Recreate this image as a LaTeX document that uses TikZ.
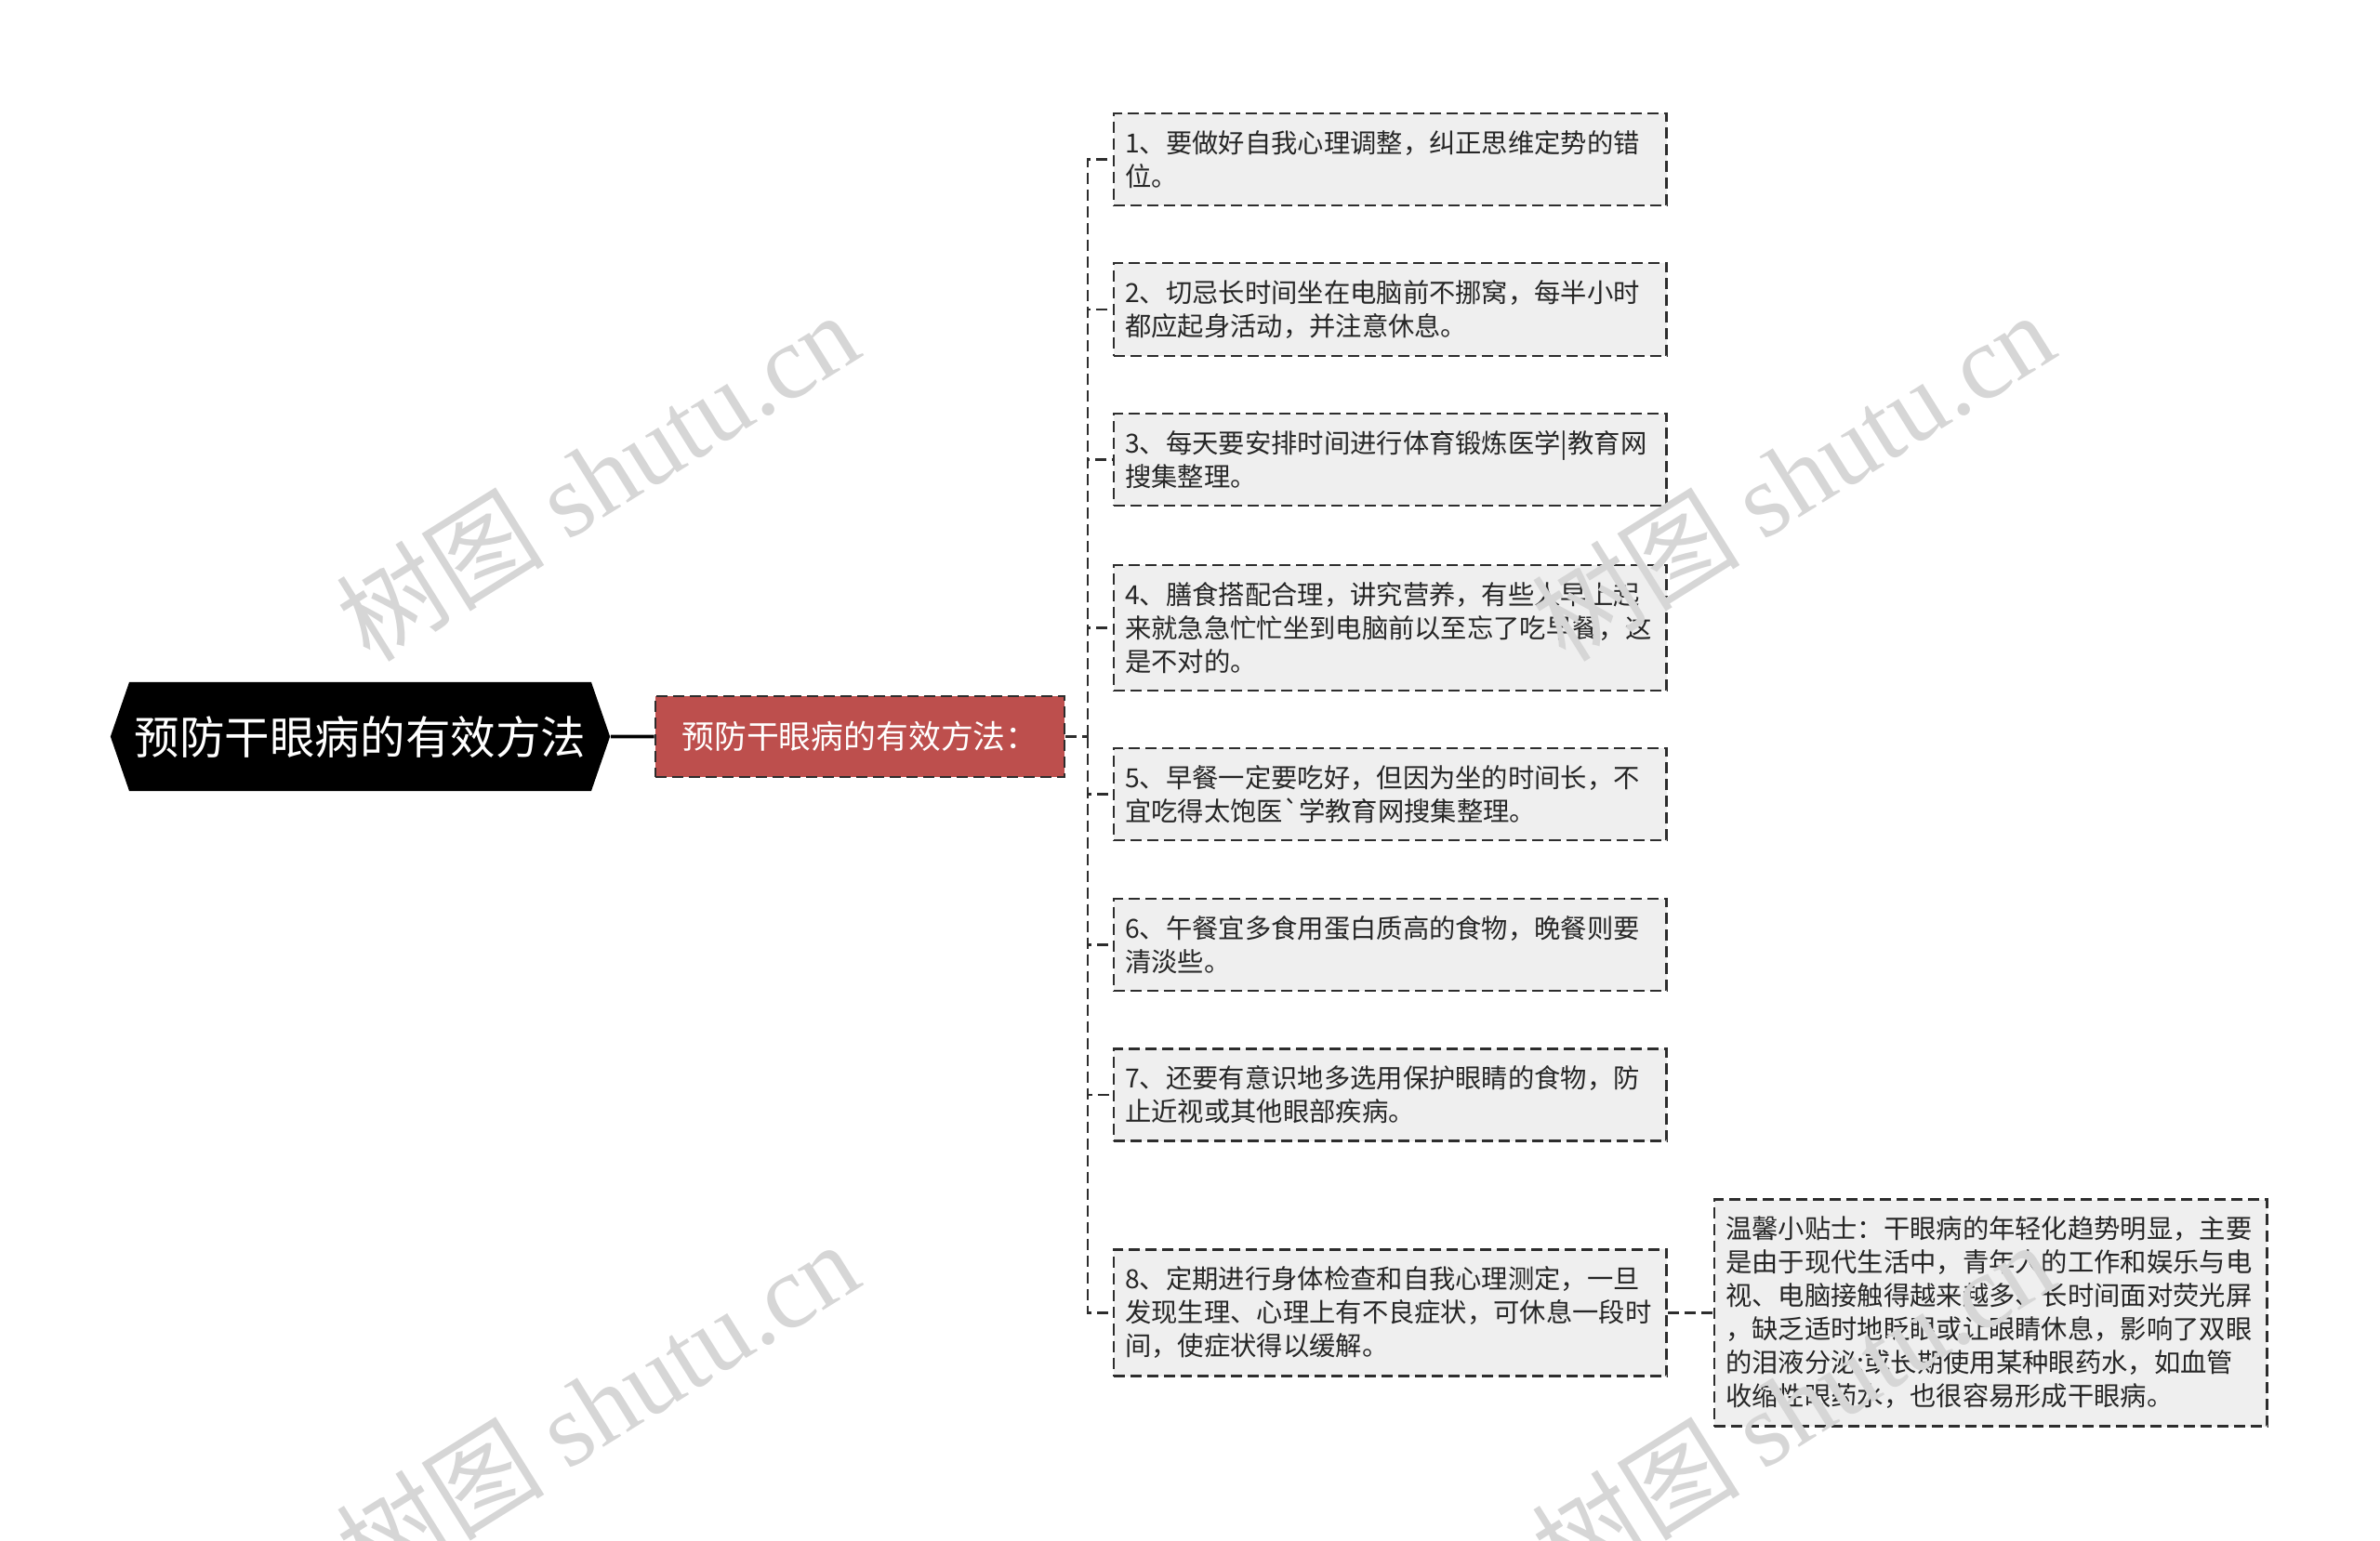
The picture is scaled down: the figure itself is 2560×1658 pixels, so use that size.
\documentclass[tikz,border=0pt]{standalone}
\usepackage{fontspec}
\setmainfont{Noto Sans CJK SC}
\newfontfamily\gravefont[Ligatures=TeXOff]{Noto Sans CJK SC}
\newfontfamily\wmfont{Liberation Serif}
\usetikzlibrary{shapes.symbols}

\definecolor{itemgray}{RGB}{239,239,239}
\definecolor{subred}{RGB}{189,79,77}
\definecolor{edgegray}{RGB}{45,45,45}
\definecolor{wmgray}{RGB}{214,214,214}

\begin{document}
\begin{tikzpicture}[x=0.01cm,y=-0.01cm,
    root/.style={signal, signal to=west and east, signal pointer angle=142, fill=black, text=white, minimum width=5.37cm, minimum height=1.17cm, inner sep=0pt, font=\fontsize{13.8pt}{16pt}\selectfont},
    sub/.style={fill=subred, draw=edgegray, dash pattern=on 0.12cm off 0.06cm, line width=0.7pt, text=white, minimum width=4.4cm, minimum height=0.87cm, inner sep=0pt, font=\fontsize{9.9pt}{12pt}\selectfont},
    item/.style={fill=itemgray, draw=edgegray, dash pattern=on 0.12cm off 0.06cm, line width=0.7pt, anchor=west, text width=5.7cm, align=left, inner xsep=0.12cm, inner ysep=0.185cm, text=black!85, font=\fontsize{8.05pt}{10.24pt}\selectfont},
    link/.style={draw=edgegray, dash pattern=on 0.12cm off 0.06cm, line width=0.7pt},
    wm/.style={text=wmgray, rotate=32, inner sep=0pt, font=\fontsize{32pt}{32pt}\selectfont}]
    \useasboundingbox (0,0) rectangle (2560,1658);

    \node[root] (root) at (387.5,792.5) {预防干眼病的有效方法};
    \node[sub] (sub) at (925,792.5) {预防干眼病的有效方法：};
    \coordinate (hub) at (1170,792.5);

    \node[item] (i1) at (1197,171.5) {1、要做好自我心理调整，纠正思维定势的错\\位。};
    \node[item] (i2) at (1197,333) {2、切忌长时间坐在电脑前不挪窝，每半小时\\都应起身活动，并注意休息。};
    \node[item] (i3) at (1197,494.5) {3、每天要安排时间进行体育锻炼医学|教育网\\搜集整理。};
    \node[item] (i4) at (1197,675.5) {4、膳食搭配合理，讲究营养，有些人早上起\\来就急急忙忙坐到电脑前以至忘了吃早餐，这\\是不对的。};
    \node[item] (i5) at (1197,854.5) {5、早餐一定要吃好，但因为坐的时间长，不\\宜吃得太饱医{\gravefont `}学教育网搜集整理。};
    \node[item] (i6) at (1197,1016.5) {6、午餐宜多食用蛋白质高的食物，晚餐则要\\清淡些。};
    \node[item] (i7) at (1197,1178) {7、还要有意识地多选用保护眼睛的食物，防\\止近视或其他眼部疾病。};
    \node[item] (i8) at (1197,1412.5) {8、定期进行身体检查和自我心理测定，一旦\\发现生理、心理上有不良症状，可休息一段时\\间，使症状得以缓解。};

    \node[item] (tip) at (1843,1412.5) {温馨小贴士：干眼病的年轻化趋势明显，主要\\是由于现代生活中，青年人的工作和娱乐与电\\视、电脑接触得越来越多、长时间面对荧光屏\\，缺乏适时地眨眼或让眼睛休息，影响了双眼\\的泪液分泌;或长期使用某种眼药水，如血管\\收缩性眼药水，也很容易形成干眼病。};

    \draw[line width=1pt] (root) -- (sub);
    \draw[link] (sub) -- (hub);
    \foreach \i in {1,...,8}
        \draw[link] (hub) |- (i\i.west);
    \draw[link] (i8) -- (tip);

    % watermarks
    \node[wm] (wm1) at (642,512) {树图 {\wmfont shutu.cn}};
    \node[wm] (wm2) at (1928,512) {树图 {\wmfont shutu.cn}};
    \node[wm] (wm3) at (642,1512) {树图 {\wmfont shutu.cn}};
    \node[wm] (wm4) at (1928,1512) {树图 {\wmfont shutu.cn}};
\end{tikzpicture}
\end{document}
